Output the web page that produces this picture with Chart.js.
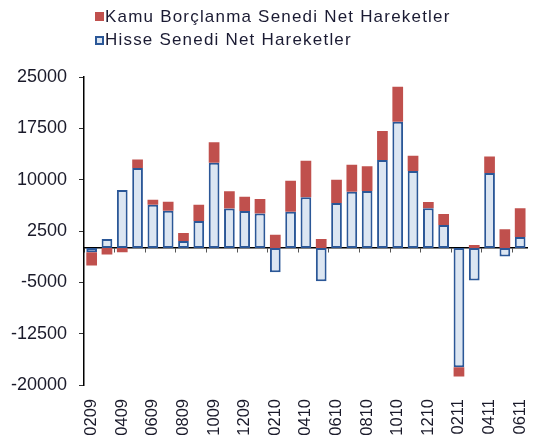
<!DOCTYPE html>
<html>
<head>
<meta charset="utf-8">
<script src="https://cdn.jsdelivr.net/npm/chart.js@4"></script>
<style>
  html, body { margin: 0; padding: 0; background: #fff; }
  #wrap { position: relative; width: 554px; height: 444px; }
  #legend { position: absolute; left: 95px; top: 5px; font-family: "Liberation Sans", Arial, sans-serif; font-size: 17px; letter-spacing: 1.2px; color: #1b1b33; }
  .item { height: 23.5px; line-height: 20px; white-space: nowrap; display: flex; align-items: center; }
  .box { width: 9px; height: 9px; margin-right: 1px; box-sizing: border-box; flex: none; }
</style>
</head>
<body>
<div id="wrap">
  <canvas id="c" width="554" height="444"></canvas>
  <div id="legend"></div>
</div>
<script>
const categories = ["0209","0309","0409","0509","0609","0709","0809","0909","1009","1109","1209",
  "0110","0210","0310","0410","0510","0610","0710","0810","0910","1010","1110","1210",
  "0111","0211","0311","0411","0511","0611"];
const hisseLabel = "Hisse Senedi Net Hareketler";
const kamuLabel = "Kamu Borçlanma Senedi Net Hareketler";
const hisseValues = [-600, 1340, 8500, 11700, 6350, 5470, 1050, 3970, 12480, 5770, 5430,
  5040, -3530, 5330, 7420, -4840, 6590, 8250, 8340, 12870, 18470, 11260, 5820,
  3380, -17400, -4740, 10970, -1240, 1630];
const kamuValues = [-1950, -950, -600, 1260, 730, 1320, 1170, 2380, 2970, 2530, 2090,
  2140, 1970, 4520, 5350, 1340, 3410, 3940, 3610, 4230, 5110, 2240, 920,
  1610, -1360, 460, 2430, 2750, 4190];
const yMin = -20000, yMax = 25000, yStep = 7500;

const RED = "#c0504d", BLUE_FILL = "#dce6f2", BLUE_BORDER = "#2b5797";
const FONT = "'Liberation Sans', Arial, sans-serif";

// HTML legend (Kamu first, then Hisse)
const legendItems = [
  { label: kamuLabel, fill: RED, border: RED, bw: 0 },
  { label: hisseLabel, fill: BLUE_FILL, border: BLUE_BORDER, bw: 2 }
];
const lg = document.getElementById('legend');
legendItems.forEach(it => {
  const d = document.createElement('div'); d.className = 'item';
  const b = document.createElement('span'); b.className = 'box';
  b.style.background = it.fill; b.style.border = it.bw + 'px solid ' + it.border;
  const t = document.createElement('span'); t.textContent = it.label;
  d.appendChild(b); d.appendChild(t); lg.appendChild(d);
});

new Chart(document.getElementById('c'), {
  type: 'bar',
  data: {
    labels: categories,
    datasets: [
      { label: hisseLabel, data: hisseValues, backgroundColor: BLUE_FILL, borderColor: BLUE_BORDER,
        borderWidth: 2, borderSkipped: false, xAxisID: 'x', yAxisID: 'y' },
      { label: kamuLabel, data: kamuValues, backgroundColor: RED, borderWidth: 0,
        xAxisID: 'x', yAxisID: 'y' }
    ]
  },
  options: {
    responsive: false,
    animation: false,
    events: [],
    datasets: { bar: { barPercentage: 0.7, categoryPercentage: 1.0 } },
    layout: { padding: { top: 77, right: 2, left: 0, bottom: 0 } },
    plugins: { legend: { display: false }, tooltip: { enabled: false } },
    scales: {
      x: {
        type: 'category', stacked: true, position: 'bottom', offset: true,
        border: { display: false },
        grid: { display: false, drawTicks: false },
        ticks: {
          autoSkip: false, minRotation: 90, maxRotation: 90, padding: 14,
          color: '#1a1a2a', font: { family: FONT, size: 16.5 },
          callback: function(v, i) { return i % 2 === 0 ? this.getLabelForValue(v) : ''; }
        },
        afterFit: s => { s.height = 59; }
      },
      x2: {
        type: 'category', position: { y: 0 }, offset: true,
        border: { display: true, color: '#000', width: 1.5 },
        grid: { offset: true, drawOnChartArea: false, drawTicks: true, tickLength: 4,
          color: ctx => (ctx.index !== undefined && ctx.index % 2 === 0) ? '#555' : 'rgba(0,0,0,0)' },
        ticks: { display: false }
      },
      y: {
        stacked: true, min: yMin, max: yMax,
        border: { display: true, color: '#000', width: 1.5 },
        grid: { drawOnChartArea: false, drawTicks: true, tickLength: 5, color: '#333' },
        ticks: { stepSize: yStep, padding: 12, color: '#1a1a2a', font: { family: FONT, size: 18 },
          callback: v => String(v) },
        afterFit: s => { s.width = 84; }
      }
    }
  }
});
</script>
</body>
</html>
